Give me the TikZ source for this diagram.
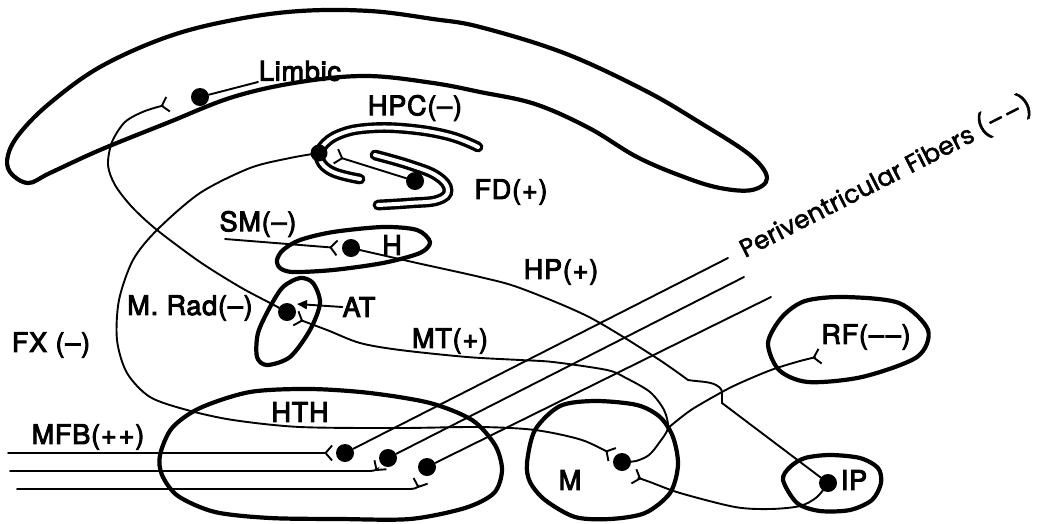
\documentclass[tikz,border=0pt]{standalone}
\usepackage{fontspec}
\setmainfont{TeX Gyre Heros}
\newfontfamily\lblfont[FakeBold=3.5, LetterSpace=3]{TeX Gyre Heros}
\newfontfamily\pvfont[FakeBold=2]{Poppins}
\usetikzlibrary{arrows.meta}

\tikzset{
  region/.style={line width=4.2pt, line join=round},
  band/.style={line width=3.4pt, double=white, double distance=4pt, line cap=round},
  fiber/.style={line width=1.9pt, line cap=round},
  syn/.style={-{Straight Barb[reversed, length=6.5pt, width=15pt]}},
  soma/.style={circle, fill=black, inner sep=0pt, minimum size=18pt},
  lbl/.style={font=\lblfont\fontsize{27}{27}\selectfont, inner sep=0pt},
  pvlbl/.style={font=\pvfont\fontsize{25}{25}\selectfont, inner sep=0pt, rotate=27, anchor=base west},
}

\begin{document}
\begin{tikzpicture}[x=1pt, y=-1pt]
\useasboundingbox (0,0) rectangle (1054,523);

% ---- brain regions ----
% limbic cortex
\draw[region] plot[smooth cycle, tension=0.6] coordinates {(10,172) (8,155) (20,133) (50,103) (100,67) (167,37) (233,20) (300,11) (370,11) (433,19) (480,27) (564,53) (644,90) (699,122) (750,155) (767,178) (752,190) (720,188) (684,177) (637,157) (589,128) (535,104) (480,92) (433,83) (367,76) (300,82) (233,97) (167,123) (100,150) (50,173) (28,183)};
% hypothalamus
\draw[region] plot[smooth cycle] coordinates {(160,455) (172,428) (200,408) (250,392) (310,389) (370,393) (430,403) (472,420) (495,445) (502,470) (494,493) (465,508) (410,519) (340,519) (270,518) (215,512) (178,496) (162,475)};
% habenula
\draw[region] plot[smooth cycle] coordinates {(277,260) (283,250) (300,240) (333,232) (383,227) (417,230) (430,242) (420,253) (383,263) (333,270) (293,272) (280,268)};
% anterior thalamus
\draw[region] plot[smooth cycle] coordinates {(300,278) (313,283) (320,303) (310,330) (290,357) (267,365) (257,357) (258,333) (270,307) (283,287)};
% mammillary body
\draw[region] plot[smooth cycle] coordinates {(527,463) (535,430) (560,406) (595,401) (637,405) (660,417) (673,437) (678,465) (670,493) (645,513) (610,519) (575,517) (545,500) (530,482)};
% reticular formation
\draw[region] plot[smooth cycle] coordinates {(768,343) (782,317) (805,301) (844,297) (899,303) (928,330) (917,357) (862,377) (808,382) (779,370)};
% interpeduncular nucleus
\draw[region] plot[smooth cycle] coordinates {(783,480) (790,467) (805,458) (830,455) (860,458) (878,468) (881,483) (872,500) (850,510) (820,511) (797,503)};
% hippocampus and fascia dentata
\draw[band] plot[smooth, tension=0.7] coordinates {(478,147) (450,136) (410,129) (370,128) (340,134) (322,147) (320,160) (333,172) (360,179)};
\draw[band] plot[smooth, tension=0.7] coordinates {(375,155) (410,165) (437,176) (448,190) (438,200) (410,203) (378,205)};

% ---- cell bodies ----
\node[soma] (dLim) at (200,97) {};
\node[soma, minimum size=17pt] (dHPC) at (319,153) {};
\node[soma] (dFD) at (415,181) {};
\node[soma] (dH) at (351,248) {};
\node[soma] (dMRad) at (287,312) {};
\node[soma] (dM) at (622,462) {};
\node[soma] (dIP) at (828,483) {};
\node[soma] (dA) at (345,453) {};
\node[soma] (dB) at (388,458) {};
\node[soma] (dC) at (427,467) {};

% ---- labels ----
\node[lbl] (tLim) at (300,71) {Limbic};
\node[lbl] (tHPC) at (415,108) {HPC(–)};
\node[lbl] (tFD) at (511,192) {FD(+)};
\node[lbl] (tSM) at (258,224) {SM(–)};
\node[lbl] (tH) at (392,245) {H};
\node[lbl] (tHP) at (561,272) {HP(+)};
\node[lbl] (tMRad) at (190,308) {M. Rad(–)};
\node[lbl] (AT) at (359,307) {AT};
\node[lbl] (tFX) at (51,345) {FX (–)};
\node[lbl] (tMT) at (450,341) {MT(+)};
\node[lbl] (tRF) at (866,337) {RF(–\kern2pt–)};
\node[lbl] (tHTH) at (300,412) {HTH};
\node[lbl] (tMFB) at (88,437) {MFB(+\kern2pt+)};
\node[lbl] (tM) at (570,480) {M};
\node[lbl] (tIP) at (854,480) {IP};
\node[pvlbl] (tPV) at (745,258) {Periventricular Fibers (–\kern2pt–)};

% ---- fibre end points ----
\coordinate (limAx) at (258,82);
\coordinate (sLim) at (169,104);
\coordinate (sHPC) at (335,156);
\coordinate (smStart) at (225,239);
\coordinate (sH) at (338,248);
\coordinate (sM1) at (613,455);
\coordinate (sM2) at (633,476);
\coordinate (sMRad) at (295,318);
\coordinate (jM) at (668,428);
\coordinate (sRF) at (821,356);
\coordinate (atTip) at (297,304);
\coordinate (pv1) at (728,258);
\coordinate (pv2) at (744,277);
\coordinate (pv3) at (771,297);
\coordinate (mfb1) at (8,453);
\coordinate (mfb2) at (10,471);
\coordinate (mfb3) at (17,489);
\coordinate (sA) at (333,453);
\coordinate (sB) at (381,464);
\coordinate (sC) at (421,480);

% ---- fibres ----
\draw[fiber] (dLim) -- (limAx);
\draw[fiber, syn] plot[smooth] coordinates {(dMRad) (272,304) (240,287) (200,262) (157,230) (132,207) (115,185) (108,165) (112,142) (125,122) (145,111) (sLim)};
\draw[fiber, syn] plot[smooth] coordinates {(dHPC) (290,158) (250,168) (200,193) (157,230) (133,260) (119,300) (117,340) (127,373) (150,397) (187,410) (233,420) (300,427) (400,428) (480,427) (535,430) (582,440) (sM1)};
\draw[fiber, syn] (dFD) -- (sHPC);
\draw[fiber, syn] (smStart) -- (sH);
\draw[fiber] plot[smooth] coordinates {(dH) (417,263) (480,277) (520,288) (589,317) (655,357) (688,380)} .. controls (700,382) and (712,381) .. (719,387) .. controls (722,390) .. (722,396) -- (722,403) -- (dIP);
\draw[fiber, -{Triangle[length=10pt, width=9pt]}] (AT.west) -- (atTip);
\draw[fiber, syn] plot[smooth] coordinates {(dM) (636,461) (649,455) (659,443) (jM) (664,410) (650,392) (626,378) (607,370) (553,362) (520,360) (467,357) (400,350) (360,343) (327,330) (sMRad)};
\draw[fiber, syn] plot[smooth] coordinates {(jM) (691,410) (722,392) (740,383) (771,370) (800,361) (sRF)};
\draw[fiber, syn] plot[smooth] coordinates {(dIP) (817,497) (800,506) (770,509) (735,507) (680,493) (650,482) (sM2)};
\draw[fiber] (dA) -- (pv1);
\draw[fiber] (dB) -- (pv2);
\draw[fiber] (dC) -- (pv3);
\draw[fiber, syn] (mfb1) -- (sA);
\draw[fiber, syn] (mfb2) -- (370,471) .. controls (376,471) and (378,468) .. (sB);
\draw[fiber, syn] (mfb3) -- (411,489) .. controls (417,489) and (419,485) .. (sC);
\end{tikzpicture}
\end{document}
